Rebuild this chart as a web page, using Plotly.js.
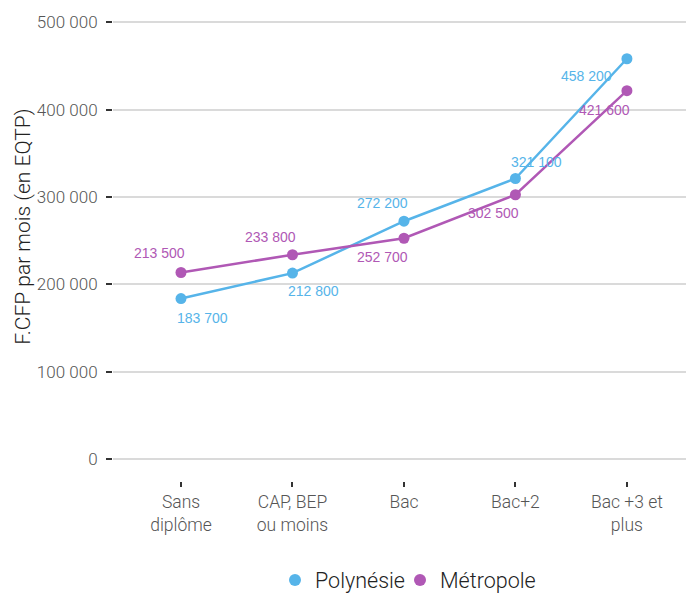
<!DOCTYPE html>
<html>
<head>
<meta charset="utf-8">
<script src="https://cdn.plot.ly/plotly-3.0.1.min.js"></script>
<style>html,body{margin:0;padding:0;background:#fff;}#chart{width:686px;height:593px;}</style>
</head>
<body>
<div id="chart"></div>
<script>
const categories = ["Sans<br>diplôme", "CAP, BEP<br>ou moins", "Bac", "Bac+2", "Bac +3 et<br>plus"];
const polynesie = [183700, 212800, 272200, 321100, 458200];
const metropole = [213500, 233800, 252700, 302500, 421600];
const yTickVals = [0, 100000, 200000, 300000, 400000, 500000];
const yTickText = ["0", "100 000", "200 000", "300 000", "400 000", "500 000"];
const yTitle = "F.CFP par mois (en EQTP)";

const BLUE = "#56b4e9";
const PURPLE = "#b058b5";

// label offsets in pixels [dx, dy(up)]
const polyOffsets = [[21, -19], [21, -18], [-21, 18], [21, 17], [-40, -17]];
const metroOffsets = [[-22, 19], [-22, 17.5], [-21, -19], [-22, -18], [-22, -19.5]];

function fmt(v) {
  return String(v).replace(/\B(?=(\d{3})+(?!\d))/g, " ");
}

const idx = categories.map((c, i) => i);

const traces = [
  {
    x: idx, y: polynesie, name: "Polynésie", type: "scatter", mode: "lines+markers",
    line: {color: BLUE, width: 2.5}, marker: {color: BLUE, size: 11}, showlegend: false
  },
  {
    x: idx, y: metropole, name: "Métropole", type: "scatter", mode: "lines+markers",
    line: {color: PURPLE, width: 2.5}, marker: {color: PURPLE, size: 11}, showlegend: false
  },
  {
    x: [null], y: [null], name: "Polynésie", type: "scatter", mode: "markers",
    marker: {color: BLUE, size: 12}, showlegend: true, legend: "legend"
  },
  {
    x: [null], y: [null], name: "Métropole", type: "scatter", mode: "markers",
    marker: {color: PURPLE, size: 12}, showlegend: true, legend: "legend2"
  }
];

const annotations = [];
polynesie.forEach((v, i) => annotations.push({
  x: i, y: v, xref: "x", yref: "y", text: fmt(v), showarrow: false,
  xshift: polyOffsets[i][0], yshift: polyOffsets[i][1],
  font: {family: "Liberation Sans, Arial, sans-serif", size: 14, color: BLUE}
}));
metropole.forEach((v, i) => annotations.push({
  x: i, y: v, xref: "x", yref: "y", text: fmt(v), showarrow: false,
  xshift: metroOffsets[i][0], yshift: metroOffsets[i][1],
  font: {family: "Liberation Sans, Arial, sans-serif", size: 14, color: PURPLE}
}));
// y-axis title (placed as annotation to match the reference's offset position)
annotations.push({
  x: -0.157, y: 0.54, xref: "paper", yref: "paper", text: yTitle, showarrow: false,
  textangle: -90, xanchor: "center", yanchor: "middle",
  font: {family: "Roboto, sans-serif", size: 21, color: "#222", weight: 300}
});

const legendFont = {family: "Roboto, sans-serif", size: 21.5, color: "#222", weight: 300};

const layout = {
  width: 686, height: 593,
  margin: {l: 113, r: 0, t: 10, b: 112, autoexpand: false},
  paper_bgcolor: "#fff", plot_bgcolor: "#fff",
  font: {family: "Roboto, sans-serif", weight: 300, color: "#555"},
  showlegend: true,
  legend: {
    orientation: "h", x: 0.2827, xanchor: "left", y: -0.21, yanchor: "middle",
    font: legendFont, itemwidth: 30, bgcolor: "rgba(0,0,0,0)"
  },
  legend2: {
    orientation: "h", x: 0.5009, xanchor: "left", y: -0.21, yanchor: "middle",
    font: legendFont, itemwidth: 30, bgcolor: "rgba(0,0,0,0)"
  },
  xaxis: {
    range: [-0.61, 4.53],
    tickmode: "array", tickvals: idx, ticktext: categories,
    showgrid: false, zeroline: false, showline: false,
    ticks: "outside", ticklen: 5, tickwidth: 2, tickcolor: "#333",
    tickfont: {family: "Roboto, sans-serif", size: 17.5, color: "#555", weight: 300},
    automargin: false,
    fixedrange: true
  },
  yaxis: {
    range: [-25200, 514000],
    tickmode: "array", tickvals: yTickVals, ticktext: yTickText,
    showgrid: true, gridcolor: "#dadada", gridwidth: 2,
    zeroline: false, showline: false,
    ticks: "outside", ticklen: 6, tickwidth: 2, tickcolor: "#333",
    ticklabelstandoff: 5,
    tickfont: {family: "Roboto, sans-serif", size: 17, color: "#555", weight: 300},
    automargin: false,
    fixedrange: true
  },
  annotations: annotations
};

Plotly.newPlot("chart", traces, layout, {displayModeBar: false, staticPlot: true});
</script>
</body>
</html>
